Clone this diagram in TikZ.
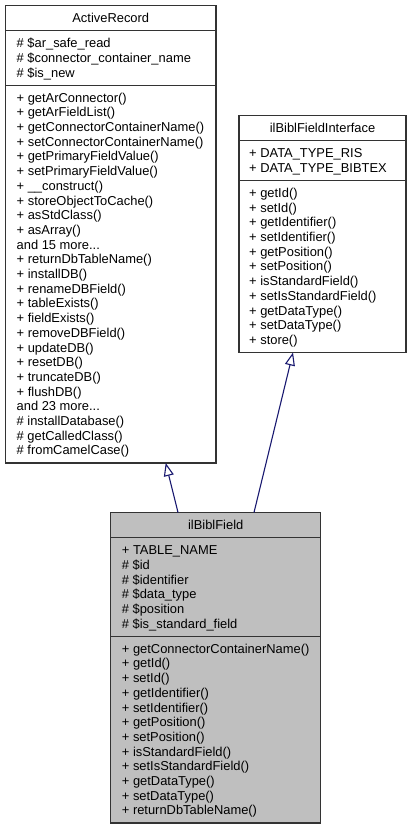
\documentclass[tikz,border=0pt]{standalone}
\usepackage{fontspec}
\setmainfont{Liberation Sans}
\usetikzlibrary{arrows.meta}
\definecolor{edgeblue}{HTML}{191970}
\definecolor{boxline}{HTML}{333333}
\definecolor{boxfill}{HTML}{BFBFBF}
\newcommand\mydots{...}
\begin{document}
\begin{tikzpicture}[x=1pt,y=-1pt,
  classbox/.style={draw=boxline, line width=1.1pt, inner sep=0pt, outer sep=0pt, anchor=north west},
  divider/.style={draw=boxline, line width=1.1pt},
  member/.style={anchor=base west, inner sep=0pt, font=\fontsize{12.9}{14.7}\selectfont},
  ctitle/.style={anchor=base, inner sep=0pt, font=\fontsize{12.9}{14.7}\selectfont},
  inherit/.style={draw=edgeblue, line width=1.1pt, -{Triangle[open, length=13pt, width=10pt]}}]
\useasboundingbox (0,0) rectangle (411,829);

% ActiveRecord
\node[classbox, fill=white, minimum width=210.5pt, minimum height=457.5pt] (ar) at (5.5,5.5) {};
\draw[divider] ([yshift=-25.1pt]ar.north west) -- ([yshift=-25.1pt]ar.north east);
\draw[divider] ([yshift=-79.6pt]ar.north west) -- ([yshift=-79.6pt]ar.north east);
\node[ctitle] (artitle) at (110.75,22.55) {ActiveRecord};
\foreach \t [count=\i from 0] in {{\# \$ar\_safe\_read},{\# \$connector\_container\_name},{\# \$is\_new}}
  \node[member] (arA\i) at (16.5,{47.65+14.7*\i}) {\t};
\foreach \t [count=\i from 0] in {{+ getArConnector()},{+ getArFieldList()},{+ getConnectorContainerName()},{+ setConnectorContainerName()},{+ getPrimaryFieldValue()},{+ setPrimaryFieldValue()},{+ \_\_construct()},{+ storeObjectToCache()},{+ asStdClass()},{+ asArray()},{and 15 more\mydots},{+ returnDbTableName()},{+ installDB()},{+ renameDBField()},{+ tableExists()},{+ fieldExists()},{+ removeDBField()},{+ updateDB()},{+ resetDB()},{+ truncateDB()},{+ flushDB()},{and 23 more\mydots},{\# installDatabase()},{\# getCalledClass()},{\# fromCamelCase()}}
  \node[member] (arM\i) at (16.5,{102.15+14.7*\i}) {\t};

% ilBiblFieldInterface
\node[classbox, fill=white, minimum width=167pt, minimum height=237pt] (iface) at (239,115.5) {};
\draw[divider] ([yshift=-25.1pt]iface.north west) -- ([yshift=-25.1pt]iface.north east);
\draw[divider] ([yshift=-64.9pt]iface.north west) -- ([yshift=-64.9pt]iface.north east);
\node[ctitle] (ifacetitle) at (322.5,132.55) {ilBiblFieldInterface};
\foreach \t [count=\i from 0] in {{+ DATA\_TYPE\_RIS},{+ DATA\_TYPE\_BIBTEX}}
  \node[member] (ifA\i) at (249,{157.65+14.7*\i}) {\t};
\foreach \t [count=\i from 0] in {{+ getId()},{+ setId()},{+ getIdentifier()},{+ setIdentifier()},{+ getPosition()},{+ setPosition()},{+ isStandardField()},{+ setIsStandardField()},{+ getDataType()},{+ setDataType()},{+ store()}}
  \node[member] (ifM\i) at (249,{197.45+14.7*\i}) {\t};

% ilBiblField
\node[classbox, fill=boxfill, minimum width=210pt, minimum height=310.5pt] (field) at (110.7,512.5) {};
\draw[divider] ([yshift=-25.1pt]field.north west) -- ([yshift=-25.1pt]field.north east);
\draw[divider] ([yshift=-123.7pt]field.north west) -- ([yshift=-123.7pt]field.north east);
\node[ctitle] (fieldtitle) at (215.7,529.55) {ilBiblField};
\foreach \t [count=\i from 0] in {{+ TABLE\_NAME},{\# \$id},{\# \$identifier},{\# \$data\_type},{\# \$position},{\# \$is\_standard\_field}}
  \node[member] (fA\i) at (121.7,{554.65+14.7*\i}) {\t};
\foreach \t [count=\i from 0] in {{+ getConnectorContainerName()},{+ getId()},{+ setId()},{+ getIdentifier()},{+ setIdentifier()},{+ getPosition()},{+ setPosition()},{+ isStandardField()},{+ setIsStandardField()},{+ getDataType()},{+ setDataType()},{+ returnDbTableName()}}
  \node[member] (fM\i) at (121.7,{653.25+14.7*\i}) {\t};

% inheritance
\draw[inherit] ([xshift=67.3pt]field.north west) -- ([xshift=160.2pt]ar.south west);
\draw[inherit] ([xshift=143.3pt]field.north west) -- ([xshift=54pt]iface.south west);
\end{tikzpicture}
\end{document}
